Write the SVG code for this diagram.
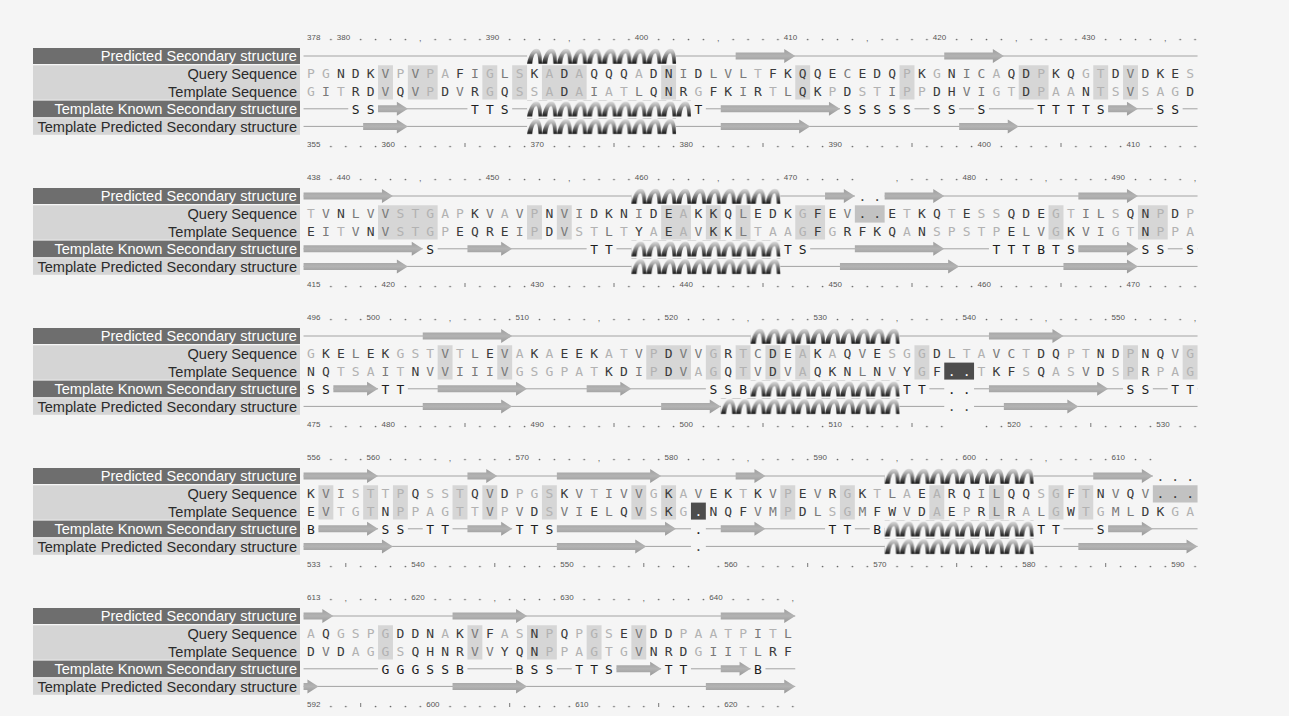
<svg xmlns="http://www.w3.org/2000/svg" width="1289" height="716" viewBox="0 0 1289 716">
<defs>
<style>
.lbd{fill:#6e6e6e}
.lbl{fill:#d5d5d5}
.lt{font-family:"Liberation Sans",Arial,sans-serif;font-size:14.6px;text-anchor:end}
.lw{fill:#ffffff}
.lk{fill:#2b2b2b}
.sq{font-family:"DejaVu Sans Mono",monospace;font-size:13px;text-anchor:middle;fill:#3a3a3a}
.l{fill:#b2b2b2}
.m{fill:#7a7a7a}
.w{fill:#ffffff}
.sh{fill:#d6d6d6}
.gq{fill:#c2c2c2}
.gt{fill:#4d4d4d}
.ln{stroke:#a3a3a3;stroke-width:1}
.ar{fill:url(#ag)}
.hx{fill:url(#hp)}
.mk{fill:#f5f5f5}
.ss{font-family:"DejaVu Sans Mono",monospace;font-size:13px;text-anchor:middle;fill:#1e1e1e}
.gd{font-family:"DejaVu Sans Mono",monospace;font-size:13px;text-anchor:middle;fill:#444}
.num{font-family:"Liberation Sans",Arial,sans-serif;font-size:8px;fill:#555}
.cm{font-family:"Liberation Sans",Arial,sans-serif;font-size:9px;text-anchor:middle;fill:#666}
.tk{stroke:#777;stroke-width:1;fill:none}
.dots{fill:url(#dp)}
</style>
<linearGradient id="ag" x1="0" y1="0" x2="0" y2="1">
<stop offset="0" stop-color="#9e9e9e"/>
<stop offset="0.5" stop-color="#b3b3b3"/>
<stop offset="1" stop-color="#979797"/>
</linearGradient>
<linearGradient id="hg" x1="0" y1="0" x2="0" y2="1">
<stop offset="0" stop-color="#dcdcdc"/>
<stop offset="0.3" stop-color="#ababab"/>
<stop offset="0.65" stop-color="#5a5a5a"/>
<stop offset="1" stop-color="#101010"/>
</linearGradient>
<pattern id="hp" patternUnits="userSpaceOnUse" x="303.55" y="-8" width="14.9" height="16">
<rect width="14.9" height="16" fill="#f5f5f5"/>
<path d="M0 15.8C1.8 7 5 0.8 9.5 0.8C12.5 0.8 14 4 14.6 9L14.9 15.8L11.5 15.8C11.2 10 10.5 5.2 9.2 5.2C7.2 5.2 5.8 10 5.2 15.8Z" fill="url(#hg)"/>
</pattern>
<pattern id="dp" patternUnits="userSpaceOnUse" x="303.55" y="0" width="14.9" height="107">
<circle cx="12.45" cy="2.5" r="0.85" fill="#666"/>
</pattern>
</defs>
<rect width="1289" height="716" fill="#f5f5f5"/>

<!-- ================= BLOCK 1 ================= -->
<g id="block1" transform="translate(0,37)">
<g id="b1-labels">
<rect class="lbd" x="33" y="11" width="267" height="16"/>
<rect class="lbl" x="33" y="28.3" width="267" height="34.4"/>
<rect class="lbd" x="33" y="63.6" width="267" height="16.6"/>
<rect class="lbl" x="33" y="81.2" width="267" height="16.6"/>
<text class="lt lw" x="297" y="24.3">Predicted Secondary structure</text>
<text class="lt lk" x="297" y="41.9">Query Sequence</text>
<text class="lt lk" x="297" y="59.5">Template Sequence</text>
<text class="lt lw" x="297" y="77.1">Template Known Secondary structure</text>
<text class="lt lk" x="297" y="94.7">Template Predicted Secondary structure</text>
</g>
<g id="b1-seq">
<path class="sh" d="M378.05 28.3h14.9v34.3h-14.9zM407.85 28.3h29.8v34.3h-29.8zM482.35 28.3h14.9v34.3h-14.9zM512.15 28.3h14.9v34.3h-14.9zM541.95 28.3h44.7v34.3h-44.7zM661.15 28.3h14.9v34.3h-14.9zM795.25 28.3h14.9v34.3h-14.9zM899.55 28.3h14.9v34.3h-14.9zM1018.75 28.3h29.8v34.3h-29.8zM1093.25 28.3h14.9v34.3h-14.9zM1123.05 28.3h14.9v34.3h-14.9z"/>
<text class="sq" x="311 325.9 340.8 355.7 370.6 385.5 400.4 415.3 430.2 445.1 460 474.9 489.8 504.7 519.6 534.5 549.4 564.3 579.2 594.1 609 623.9 638.8 653.7 668.6 683.5 698.4 713.3 728.2 743.1 758 772.9 787.8 802.7 817.6 832.5 847.4 862.3 877.2 892.1 907 921.9 936.8 951.7 966.6 981.5 996.4 1011.3 1026.2 1041.1 1056 1070.9 1085.8 1100.7 1115.6 1130.5 1145.4 1160.3 1175.2 1190.1" y="41.3"><tspan class="l">PG</tspan>NDK<tspan class="m">V</tspan><tspan class="l">P</tspan><tspan class="m">V</tspan><tspan class="l">PA</tspan>F<tspan class="m">I</tspan><tspan class="l">G</tspan><tspan class="m">L</tspan><tspan class="l">S</tspan>K<tspan class="l">A</tspan>D<tspan class="l">A</tspan>QQQ<tspan class="l">A</tspan>DN<tspan class="m">I</tspan>D<tspan class="m">LVL</tspan><tspan class="l">T</tspan>FKQQE<tspan class="m">C</tspan>EDQ<tspan class="l">P</tspan>K<tspan class="l">G</tspan>N<tspan class="m">IC</tspan><tspan class="l">A</tspan>QD<tspan class="l">P</tspan>KQ<tspan class="l">GT</tspan>D<tspan class="m">V</tspan>DKE<tspan class="l">S</tspan></text>
<text class="sq" x="311 325.9 340.8 355.7 370.6 385.5 400.4 415.3 430.2 445.1 460 474.9 489.8 504.7 519.6 534.5 549.4 564.3 579.2 594.1 609 623.9 638.8 653.7 668.6 683.5 698.4 713.3 728.2 743.1 758 772.9 787.8 802.7 817.6 832.5 847.4 862.3 877.2 892.1 907 921.9 936.8 951.7 966.6 981.5 996.4 1011.3 1026.2 1041.1 1056 1070.9 1085.8 1100.7 1115.6 1130.5 1145.4 1160.3 1175.2 1190.1" y="58.9"><tspan class="l">G</tspan><tspan class="m">I</tspan><tspan class="l">T</tspan>RD<tspan class="m">V</tspan>Q<tspan class="m">V</tspan><tspan class="l">P</tspan>D<tspan class="m">V</tspan>R<tspan class="l">G</tspan>Q<tspan class="l">SSA</tspan>D<tspan class="l">A</tspan><tspan class="m">I</tspan><tspan class="l">AT</tspan><tspan class="m">L</tspan>QNR<tspan class="l">G</tspan>FK<tspan class="m">I</tspan>R<tspan class="l">T</tspan><tspan class="m">L</tspan>QK<tspan class="l">P</tspan>D<tspan class="l">ST</tspan><tspan class="m">I</tspan><tspan class="l">PP</tspan>DH<tspan class="m">VI</tspan><tspan class="l">GT</tspan>D<tspan class="l">PAA</tspan>N<tspan class="l">TS</tspan><tspan class="m">V</tspan><tspan class="l">SAG</tspan>D</text>
</g>
<g id="b1-ss">
<g id="b1-pred" transform="translate(0,19)">
<line class="ln" x1="303.55" y1="0" x2="1197.55" y2="0"/>
<rect class="hx" x="527.05" y="-8" width="149" height="16"/>
<path class="ar" d="M735.65 -3.5H784.25V-7L795.25 0L784.25 7V3.5H735.65ZM944.25 -3.5H992.85V-7L1003.85 0L992.85 7V3.5H944.25Z"/>
</g>
<g id="b1-known" transform="translate(0,71.8)">
<line class="ln" x1="303.55" y1="0" x2="1197.55" y2="0"/>
<path class="mk" d="M348.25 -1.5h29.8v3h-29.8zM467.45 -1.5h44.7v3h-44.7zM690.95 -1.5h14.9v3h-14.9zM839.95 -1.5h74.5v3h-74.5zM929.35 -1.5h29.8v3h-29.8zM974.05 -1.5h14.9v3h-14.9zM1033.65 -1.5h74.5v3h-74.5zM1152.85 -1.5h29.8v3h-29.8z"/>
<rect class="hx" x="527.05" y="-8" width="163.9" height="16"/>
<path class="ar" d="M378.05 -3.5H396.85V-7L407.85 0L396.85 7V3.5H378.05ZM720.75 -3.5H828.95V-7L839.95 0L828.95 7V3.5H720.75ZM1108.15 -3.5H1126.95V-7L1137.95 0L1126.95 7V3.5H1108.15Z"/>
<text class="ss" x="355.7 370.6 474.9 489.8 504.7 698.4 847.4 862.3 877.2 892.1 907 936.8 951.7 981.5 1041.1 1056 1070.9 1085.8 1100.7 1160.3 1175.2" y="4.7">SSTTSTSSSSSSSSTTTTSSS</text>
</g>
<g id="b1-tpred" transform="translate(0,89.4)">
<line class="ln" x1="303.55" y1="0" x2="1197.55" y2="0"/>
<rect class="hx" x="527.05" y="-8" width="149" height="16"/>
<path class="ar" d="M363.15 -3.5H396.85V-7L407.85 0L396.85 7V3.5H363.15ZM720.75 -3.5H799.15V-7L810.15 0L799.15 7V3.5H720.75ZM959.15 -3.5H1007.75V-7L1018.75 0L1007.75 7V3.5H959.15Z"/>
</g>
</g>
<g id="b1-num">
<rect class="dots" x="303.55" y="0.5" width="894" height="4"/>
<rect class="dots" x="303.55" y="107.5" width="894" height="4"/>
<path class="mk" d="M303.55 .5h14.9v4h-14.9zM333.35 .5h14.9v4h-14.9zM482.35 .5h14.9v4h-14.9zM631.35 .5h14.9v4h-14.9zM780.35 .5h14.9v4h-14.9zM929.35 .5h14.9v4h-14.9zM1078.35 .5h14.9v4h-14.9zM407.85 .5h14.9v4h-14.9zM556.85 .5h14.9v4h-14.9zM705.85 .5h14.9v4h-14.9zM854.85 .5h14.9v4h-14.9zM1003.85 .5h14.9v4h-14.9zM1152.85 .5h14.9v4h-14.9zM303.55 107.5h14.9v4h-14.9zM378.05 107.5h14.9v4h-14.9zM527.05 107.5h14.9v4h-14.9zM676.05 107.5h14.9v4h-14.9zM825.05 107.5h14.9v4h-14.9zM974.05 107.5h14.9v4h-14.9zM1123.05 107.5h14.9v4h-14.9zM452.55 107.5h14.9v4h-14.9zM601.55 107.5h14.9v4h-14.9zM750.55 107.5h14.9v4h-14.9zM899.55 107.5h14.9v4h-14.9zM1048.55 107.5h14.9v4h-14.9z"/>
<text class="num" x="307" y="3.3">378</text>
<text class="num" x="336.8" y="3.3">380</text>
<text class="num" x="485.8" y="3.3">390</text>
<text class="num" x="634.8" y="3.3">400</text>
<text class="num" x="783.8" y="3.3">410</text>
<text class="num" x="932.8" y="3.3">420</text>
<text class="num" x="1081.8" y="3.3">430</text>
<text class="cm" x="420.3" y="4">,</text>
<text class="cm" x="569.3" y="4">,</text>
<text class="cm" x="718.3" y="4">,</text>
<text class="cm" x="867.3" y="4">,</text>
<text class="cm" x="1016.3" y="4">,</text>
<text class="cm" x="1165.3" y="4">,</text>
<text class="num" x="307" y="110.3">355</text>
<text class="num" x="381.5" y="110.3">360</text>
<text class="num" x="530.5" y="110.3">370</text>
<text class="num" x="679.5" y="110.3">380</text>
<text class="num" x="828.5" y="110.3">390</text>
<text class="num" x="977.5" y="110.3">400</text>
<text class="num" x="1126.5" y="110.3">410</text>
<path class="tk" d="M465 106v4M614 106v4M763 106v4M912 106v4M1061 106v4"/>
</g>
</g>

<!-- ================= BLOCK 2 ================= -->
<g id="block2" transform="translate(0,177)">
<g id="b2-labels">
<rect class="lbd" x="33" y="11" width="267" height="16"/>
<rect class="lbl" x="33" y="28.3" width="267" height="34.4"/>
<rect class="lbd" x="33" y="63.6" width="267" height="16.6"/>
<rect class="lbl" x="33" y="81.2" width="267" height="16.6"/>
<text class="lt lw" x="297" y="24.3">Predicted Secondary structure</text>
<text class="lt lk" x="297" y="41.9">Query Sequence</text>
<text class="lt lk" x="297" y="59.5">Template Sequence</text>
<text class="lt lw" x="297" y="77.1">Template Known Secondary structure</text>
<text class="lt lk" x="297" y="94.7">Template Predicted Secondary structure</text>
</g>
<g id="b2-seq">
<path class="sh" d="M378.05 28.3h59.6v34.3h-59.6zM527.05 28.3h14.9v34.3h-14.9zM556.85 28.3h14.9v34.3h-14.9zM661.15 28.3h29.8v34.3h-29.8zM705.85 28.3h14.9v34.3h-14.9zM735.65 28.3h14.9v34.3h-14.9zM795.25 28.3h29.8v34.3h-29.8zM1048.55 28.3h14.9v34.3h-14.9zM1137.95 28.3h29.8v34.3h-29.8z"/>
<path class="gq" d="M854.85 28.3h29.8v17.3h-29.8z"/>
<text class="sq" x="311 325.9 340.8 355.7 370.6 385.5 400.4 415.3 430.2 445.1 460 474.9 489.8 504.7 519.6 534.5 549.4 564.3 579.2 594.1 609 623.9 638.8 653.7 668.6 683.5 698.4 713.3 728.2 743.1 758 772.9 787.8 802.7 817.6 832.5 847.4 862.3 877.2 892.1 907 921.9 936.8 951.7 966.6 981.5 996.4 1011.3 1026.2 1041.1 1056 1070.9 1085.8 1100.7 1115.6 1130.5 1145.4 1160.3 1175.2 1190.1" y="41.3"><tspan class="l">T</tspan><tspan class="m">V</tspan>N<tspan class="m">LVV</tspan><tspan class="l">STGAP</tspan>K<tspan class="m">V</tspan><tspan class="l">A</tspan><tspan class="m">V</tspan><tspan class="l">P</tspan>N<tspan class="m">VI</tspan>DKN<tspan class="m">I</tspan>DE<tspan class="l">A</tspan>KKQ<tspan class="m">L</tspan>EDK<tspan class="l">G</tspan>FE<tspan class="m">V</tspan>..E<tspan class="l">T</tspan>KQ<tspan class="l">T</tspan>E<tspan class="l">SS</tspan>QDE<tspan class="l">GT</tspan><tspan class="m">IL</tspan><tspan class="l">S</tspan>QN<tspan class="l">P</tspan>D<tspan class="l">P</tspan></text>
<text class="sq" x="311 325.9 340.8 355.7 370.6 385.5 400.4 415.3 430.2 445.1 460 474.9 489.8 504.7 519.6 534.5 549.4 564.3 579.2 594.1 609 623.9 638.8 653.7 668.6 683.5 698.4 713.3 728.2 743.1 758 772.9 787.8 802.7 817.6 832.5 847.4 862.3 877.2 892.1 907 921.9 936.8 951.7 966.6 981.5 996.4 1011.3 1026.2 1041.1 1056 1070.9 1085.8 1100.7 1115.6 1130.5 1145.4 1160.3 1175.2 1190.1" y="58.9">E<tspan class="m">I</tspan><tspan class="l">T</tspan><tspan class="m">V</tspan>N<tspan class="m">V</tspan><tspan class="l">STGP</tspan>EQRE<tspan class="m">I</tspan><tspan class="l">P</tspan>D<tspan class="m">V</tspan><tspan class="l">ST</tspan><tspan class="m">L</tspan><tspan class="l">T</tspan>Y<tspan class="l">A</tspan>E<tspan class="l">A</tspan><tspan class="m">V</tspan>KK<tspan class="m">L</tspan><tspan class="l">TAAG</tspan>F<tspan class="l">G</tspan>RFKQ<tspan class="l">A</tspan>N<tspan class="l">SPSTP</tspan>E<tspan class="m">LV</tspan><tspan class="l">G</tspan>K<tspan class="m">VI</tspan><tspan class="l">GT</tspan>N<tspan class="l">PPA</tspan></text>
</g>
<g id="b2-ss">
<g id="b2-pred" transform="translate(0,19)">
<line class="ln" x1="303.55" y1="0" x2="1197.55" y2="0"/>
<path class="mk" d="M854.85 -1.5h29.8v3h-29.8z"/>
<rect class="hx" x="631.35" y="-8" width="149" height="16"/>
<path class="ar" d="M303.55 -3.5H381.95V-7L392.95 0L381.95 7V3.5H303.55ZM825.05 -3.5H843.85V-7L854.85 0L843.85 7V3.5H825.05ZM884.65 -3.5H933.25V-7L944.25 0L933.25 7V3.5H884.65ZM1078.35 -3.5H1126.95V-7L1137.95 0L1126.95 7V3.5H1078.35Z"/>
<text class="gd" x="862.3 877.2" y="5">..</text>
</g>
<g id="b2-known" transform="translate(0,71.8)">
<line class="ln" x1="303.55" y1="0" x2="1197.55" y2="0"/>
<path class="mk" d="M422.75 -1.5h14.9v3h-14.9zM586.65 -1.5h29.8v3h-29.8zM780.35 -1.5h29.8v3h-29.8zM988.95 -1.5h89.4v3h-89.4zM1137.95 -1.5h29.8v3h-29.8zM1182.65 -1.5h14.9v3h-14.9z"/>
<rect class="hx" x="631.35" y="-8" width="149" height="16"/>
<path class="ar" d="M303.55 -3.5H411.75V-7L422.75 0L411.75 7V3.5H303.55ZM467.45 -3.5H501.15V-7L512.15 0L501.15 7V3.5H467.45ZM854.85 -3.5H933.25V-7L944.25 0L933.25 7V3.5H854.85ZM1078.35 -3.5H1126.95V-7L1137.95 0L1126.95 7V3.5H1078.35Z"/>
<text class="ss" x="430.2 594.1 609 787.8 802.7 996.4 1011.3 1026.2 1041.1 1056 1070.9 1145.4 1160.3 1190.1" y="4.7">STTTSTTTBTSSSS</text>
</g>
<g id="b2-tpred" transform="translate(0,89.4)">
<line class="ln" x1="303.55" y1="0" x2="1197.55" y2="0"/>
<rect class="hx" x="631.35" y="-8" width="149" height="16"/>
<path class="ar" d="M303.55 -3.5H396.85V-7L407.85 0L396.85 7V3.5H303.55ZM839.95 -3.5H948.15V-7L959.15 0L948.15 7V3.5H839.95ZM1063.45 -3.5H1126.95V-7L1137.95 0L1126.95 7V3.5H1063.45Z"/>
</g>
</g>
<g id="b2-num">
<rect class="dots" x="303.55" y="0.5" width="894" height="4"/>
<rect class="dots" x="303.55" y="107.5" width="894" height="4"/>
<path class="mk" d="M303.55 .5h14.9v4h-14.9zM333.35 .5h14.9v4h-14.9zM482.35 .5h14.9v4h-14.9zM631.35 .5h14.9v4h-14.9zM780.35 .5h14.9v4h-14.9zM959.15 .5h14.9v4h-14.9zM1108.15 .5h14.9v4h-14.9zM407.85 .5h14.9v4h-14.9zM556.85 .5h14.9v4h-14.9zM705.85 .5h14.9v4h-14.9zM884.65 .5h14.9v4h-14.9zM1033.65 .5h14.9v4h-14.9zM1182.65 .5h14.9v4h-14.9zM854.85 .5h29.8v4h-29.8zM303.55 107.5h14.9v4h-14.9zM378.05 107.5h14.9v4h-14.9zM527.05 107.5h14.9v4h-14.9zM676.05 107.5h14.9v4h-14.9zM825.05 107.5h14.9v4h-14.9zM974.05 107.5h14.9v4h-14.9zM1123.05 107.5h14.9v4h-14.9zM452.55 107.5h14.9v4h-14.9zM601.55 107.5h14.9v4h-14.9zM750.55 107.5h14.9v4h-14.9zM899.55 107.5h14.9v4h-14.9zM1048.55 107.5h14.9v4h-14.9z"/>
<text class="num" x="307" y="3.3">438</text>
<text class="num" x="336.8" y="3.3">440</text>
<text class="num" x="485.8" y="3.3">450</text>
<text class="num" x="634.8" y="3.3">460</text>
<text class="num" x="783.8" y="3.3">470</text>
<text class="num" x="962.6" y="3.3">480</text>
<text class="num" x="1111.6" y="3.3">490</text>
<text class="cm" x="420.3" y="4">,</text>
<text class="cm" x="569.3" y="4">,</text>
<text class="cm" x="718.3" y="4">,</text>
<text class="cm" x="897.1" y="4">,</text>
<text class="cm" x="1046.1" y="4">,</text>
<text class="cm" x="1195.1" y="4">,</text>
<text class="num" x="307" y="110.3">415</text>
<text class="num" x="381.5" y="110.3">420</text>
<text class="num" x="530.5" y="110.3">430</text>
<text class="num" x="679.5" y="110.3">440</text>
<text class="num" x="828.5" y="110.3">450</text>
<text class="num" x="977.5" y="110.3">460</text>
<text class="num" x="1126.5" y="110.3">470</text>
<path class="tk" d="M465 106v4M614 106v4M763 106v4M912 106v4M1061 106v4"/>
</g>
</g>

<!-- ================= BLOCK 3 ================= -->
<g id="block3" transform="translate(0,317)">
<g id="b3-labels">
<rect class="lbd" x="33" y="11" width="267" height="16"/>
<rect class="lbl" x="33" y="28.3" width="267" height="34.4"/>
<rect class="lbd" x="33" y="63.6" width="267" height="16.6"/>
<rect class="lbl" x="33" y="81.2" width="267" height="16.6"/>
<text class="lt lw" x="297" y="24.3">Predicted Secondary structure</text>
<text class="lt lk" x="297" y="41.9">Query Sequence</text>
<text class="lt lk" x="297" y="59.5">Template Sequence</text>
<text class="lt lw" x="297" y="77.1">Template Known Secondary structure</text>
<text class="lt lk" x="297" y="94.7">Template Predicted Secondary structure</text>
</g>
<g id="b3-seq">
<path class="sh" d="M437.65 28.3h14.9v34.3h-14.9zM497.25 28.3h14.9v34.3h-14.9zM646.25 28.3h44.7v34.3h-44.7zM705.85 28.3h14.9v34.3h-14.9zM735.65 28.3h14.9v34.3h-14.9zM765.45 28.3h14.9v34.3h-14.9zM795.25 28.3h14.9v34.3h-14.9zM914.45 28.3h14.9v34.3h-14.9zM1123.05 28.3h14.9v34.3h-14.9zM1182.65 28.3h14.9v34.3h-14.9z"/>
<path class="gt" d="M944.25 45.6h29.8v17h-29.8z"/>
<text class="sq" x="311 325.9 340.8 355.7 370.6 385.5 400.4 415.3 430.2 445.1 460 474.9 489.8 504.7 519.6 534.5 549.4 564.3 579.2 594.1 609 623.9 638.8 653.7 668.6 683.5 698.4 713.3 728.2 743.1 758 772.9 787.8 802.7 817.6 832.5 847.4 862.3 877.2 892.1 907 921.9 936.8 951.7 966.6 981.5 996.4 1011.3 1026.2 1041.1 1056 1070.9 1085.8 1100.7 1115.6 1130.5 1145.4 1160.3 1175.2 1190.1" y="41.3"><tspan class="l">G</tspan>KE<tspan class="m">L</tspan>EK<tspan class="l">GST</tspan><tspan class="m">V</tspan><tspan class="l">T</tspan><tspan class="m">L</tspan>E<tspan class="m">V</tspan><tspan class="l">A</tspan>K<tspan class="l">A</tspan>EEK<tspan class="l">AT</tspan><tspan class="m">V</tspan><tspan class="l">P</tspan>D<tspan class="m">VV</tspan><tspan class="l">G</tspan>R<tspan class="l">T</tspan><tspan class="m">C</tspan>DE<tspan class="l">A</tspan>K<tspan class="l">A</tspan>Q<tspan class="m">V</tspan>E<tspan class="l">SGG</tspan>D<tspan class="m">L</tspan><tspan class="l">TA</tspan><tspan class="m">VC</tspan><tspan class="l">T</tspan>DQ<tspan class="l">PT</tspan>ND<tspan class="l">P</tspan>NQ<tspan class="m">V</tspan><tspan class="l">G</tspan></text>
<text class="sq" x="311 325.9 340.8 355.7 370.6 385.5 400.4 415.3 430.2 445.1 460 474.9 489.8 504.7 519.6 534.5 549.4 564.3 579.2 594.1 609 623.9 638.8 653.7 668.6 683.5 698.4 713.3 728.2 743.1 758 772.9 787.8 802.7 817.6 832.5 847.4 862.3 877.2 892.1 907 921.9 936.8 951.7 966.6 981.5 996.4 1011.3 1026.2 1041.1 1056 1070.9 1085.8 1100.7 1115.6 1130.5 1145.4 1160.3 1175.2 1190.1" y="58.9">NQ<tspan class="l">TSA</tspan><tspan class="m">I</tspan><tspan class="l">T</tspan>N<tspan class="m">VVIIIV</tspan><tspan class="l">GSGPAT</tspan>KD<tspan class="m">I</tspan><tspan class="l">P</tspan>D<tspan class="m">V</tspan><tspan class="l">AG</tspan>Q<tspan class="l">T</tspan><tspan class="m">V</tspan>D<tspan class="m">V</tspan><tspan class="l">A</tspan>QKN<tspan class="m">L</tspan>N<tspan class="m">V</tspan>Y<tspan class="l">G</tspan>F<tspan class="w">..</tspan><tspan class="l">T</tspan>KF<tspan class="l">S</tspan>Q<tspan class="l">AS</tspan><tspan class="m">V</tspan>D<tspan class="l">SP</tspan>R<tspan class="l">PAG</tspan></text>
</g>
<g id="b3-ss">
<g id="b3-pred" transform="translate(0,19)">
<line class="ln" x1="303.55" y1="0" x2="1197.55" y2="0"/>
<rect class="hx" x="750.55" y="-8" width="149" height="16"/>
<path class="ar" d="M422.75 -3.5H501.15V-7L512.15 0L501.15 7V3.5H422.75ZM988.95 -3.5H1052.45V-7L1063.45 0L1052.45 7V3.5H988.95Z"/>
</g>
<g id="b3-known" transform="translate(0,71.8)">
<line class="ln" x1="303.55" y1="0" x2="1197.55" y2="0"/>
<path class="mk" d="M303.55 -1.5h29.8v3h-29.8zM378.05 -1.5h29.8v3h-29.8zM705.85 -1.5h44.7v3h-44.7zM899.55 -1.5h29.8v3h-29.8zM944.25 -1.5h29.8v3h-29.8zM1123.05 -1.5h29.8v3h-29.8zM1167.75 -1.5h29.8v3h-29.8z"/>
<rect class="hx" x="750.55" y="-8" width="149" height="16"/>
<path class="ar" d="M333.35 -3.5H367.05V-7L378.05 0L367.05 7V3.5H333.35ZM437.65 -3.5H516.05V-7L527.05 0L516.05 7V3.5H437.65ZM586.65 -3.5H620.35V-7L631.35 0L620.35 7V3.5H586.65ZM988.95 -3.5H1097.15V-7L1108.15 0L1097.15 7V3.5H988.95Z"/>
<text class="ss" x="311 325.9 385.5 400.4 713.3 728.2 743.1 907 921.9 951.7 966.6 1130.5 1145.4 1175.2 1190.1" y="4.7">SSTTSSBTT..SSTT</text>
</g>
<g id="b3-tpred" transform="translate(0,89.4)">
<line class="ln" x1="303.55" y1="0" x2="1197.55" y2="0"/>
<path class="mk" d="M944.25 -1.5h29.8v3h-29.8z"/>
<rect class="hx" x="720.75" y="-8" width="178.8" height="16"/>
<path class="ar" d="M422.75 -3.5H501.15V-7L512.15 0L501.15 7V3.5H422.75ZM661.15 -3.5H709.75V-7L720.75 0L709.75 7V3.5H661.15ZM1003.85 -3.5H1067.35V-7L1078.35 0L1067.35 7V3.5H1003.85Z"/>
<text class="gd" x="951.7 966.6" y="5">..</text>
</g>
</g>
<g id="b3-num">
<rect class="dots" x="303.55" y="0.5" width="894" height="4"/>
<rect class="dots" x="303.55" y="107.5" width="894" height="4"/>
<path class="mk" d="M303.55 .5h14.9v4h-14.9zM363.15 .5h14.9v4h-14.9zM512.15 .5h14.9v4h-14.9zM661.15 .5h14.9v4h-14.9zM810.15 .5h14.9v4h-14.9zM959.15 .5h14.9v4h-14.9zM1108.15 .5h14.9v4h-14.9zM437.65 .5h14.9v4h-14.9zM586.65 .5h14.9v4h-14.9zM735.65 .5h14.9v4h-14.9zM884.65 .5h14.9v4h-14.9zM1033.65 .5h14.9v4h-14.9zM1182.65 .5h14.9v4h-14.9zM303.55 107.5h14.9v4h-14.9zM378.05 107.5h14.9v4h-14.9zM527.05 107.5h14.9v4h-14.9zM676.05 107.5h14.9v4h-14.9zM825.05 107.5h14.9v4h-14.9zM1003.85 107.5h14.9v4h-14.9zM1152.85 107.5h14.9v4h-14.9zM452.55 107.5h14.9v4h-14.9zM601.55 107.5h14.9v4h-14.9zM750.55 107.5h14.9v4h-14.9zM899.55 107.5h14.9v4h-14.9zM1078.35 107.5h14.9v4h-14.9zM944.25 107.5h29.8v4h-29.8z"/>
<text class="num" x="307" y="3.3">496</text>
<text class="num" x="366.6" y="3.3">500</text>
<text class="num" x="515.6" y="3.3">510</text>
<text class="num" x="664.6" y="3.3">520</text>
<text class="num" x="813.6" y="3.3">530</text>
<text class="num" x="962.6" y="3.3">540</text>
<text class="num" x="1111.6" y="3.3">550</text>
<text class="cm" x="450.1" y="4">,</text>
<text class="cm" x="599.1" y="4">,</text>
<text class="cm" x="748.1" y="4">,</text>
<text class="cm" x="897.1" y="4">,</text>
<text class="cm" x="1046.1" y="4">,</text>
<text class="cm" x="1195.1" y="4">,</text>
<text class="num" x="307" y="110.3">475</text>
<text class="num" x="381.5" y="110.3">480</text>
<text class="num" x="530.5" y="110.3">490</text>
<text class="num" x="679.5" y="110.3">500</text>
<text class="num" x="828.5" y="110.3">510</text>
<text class="num" x="1007.3" y="110.3">520</text>
<text class="num" x="1156.3" y="110.3">530</text>
<path class="tk" d="M465 106v4M614 106v4M763 106v4M912 106v4M1090.8 106v4"/>
</g>
</g>

<!-- ================= BLOCK 4 ================= -->
<g id="block4" transform="translate(0,457)">
<g id="b4-labels">
<rect class="lbd" x="33" y="11" width="267" height="16"/>
<rect class="lbl" x="33" y="28.3" width="267" height="34.4"/>
<rect class="lbd" x="33" y="63.6" width="267" height="16.6"/>
<rect class="lbl" x="33" y="81.2" width="267" height="16.6"/>
<text class="lt lw" x="297" y="24.3">Predicted Secondary structure</text>
<text class="lt lk" x="297" y="41.9">Query Sequence</text>
<text class="lt lk" x="297" y="59.5">Template Sequence</text>
<text class="lt lw" x="297" y="77.1">Template Known Secondary structure</text>
<text class="lt lk" x="297" y="94.7">Template Predicted Secondary structure</text>
</g>
<g id="b4-seq">
<path class="sh" d="M318.45 28.3h14.9v34.3h-14.9zM363.15 28.3h14.9v34.3h-14.9zM392.95 28.3h14.9v34.3h-14.9zM452.55 28.3h14.9v34.3h-14.9zM482.35 28.3h14.9v34.3h-14.9zM541.95 28.3h14.9v34.3h-14.9zM631.35 28.3h14.9v34.3h-14.9zM661.15 28.3h14.9v34.3h-14.9zM780.35 28.3h14.9v34.3h-14.9zM839.95 28.3h14.9v34.3h-14.9zM929.35 28.3h14.9v34.3h-14.9zM988.95 28.3h14.9v34.3h-14.9zM1048.55 28.3h14.9v34.3h-14.9zM1078.35 28.3h14.9v34.3h-14.9z"/>
<path class="gq" d="M1152.85 28.3h44.7v17.3h-44.7z"/>
<path class="gt" d="M690.95 45.6h14.9v17h-14.9z"/>
<text class="sq" x="311 325.9 340.8 355.7 370.6 385.5 400.4 415.3 430.2 445.1 460 474.9 489.8 504.7 519.6 534.5 549.4 564.3 579.2 594.1 609 623.9 638.8 653.7 668.6 683.5 698.4 713.3 728.2 743.1 758 772.9 787.8 802.7 817.6 832.5 847.4 862.3 877.2 892.1 907 921.9 936.8 951.7 966.6 981.5 996.4 1011.3 1026.2 1041.1 1056 1070.9 1085.8 1100.7 1115.6 1130.5 1145.4 1160.3 1175.2 1190.1" y="41.3">K<tspan class="m">VI</tspan><tspan class="l">STTP</tspan>Q<tspan class="l">SST</tspan>Q<tspan class="m">V</tspan>D<tspan class="l">PGS</tspan>K<tspan class="m">V</tspan><tspan class="l">T</tspan><tspan class="m">IVV</tspan><tspan class="l">G</tspan>K<tspan class="l">A</tspan><tspan class="m">V</tspan>EK<tspan class="l">T</tspan>K<tspan class="m">V</tspan><tspan class="l">P</tspan>E<tspan class="m">V</tspan>R<tspan class="l">G</tspan>K<tspan class="l">T</tspan><tspan class="m">L</tspan><tspan class="l">A</tspan>E<tspan class="l">A</tspan>RQ<tspan class="m">IL</tspan>QQ<tspan class="l">SG</tspan>F<tspan class="l">T</tspan>N<tspan class="m">V</tspan>Q<tspan class="m">V</tspan>...</text>
<text class="sq" x="311 325.9 340.8 355.7 370.6 385.5 400.4 415.3 430.2 445.1 460 474.9 489.8 504.7 519.6 534.5 549.4 564.3 579.2 594.1 609 623.9 638.8 653.7 668.6 683.5 698.4 713.3 728.2 743.1 758 772.9 787.8 802.7 817.6 832.5 847.4 862.3 877.2 892.1 907 921.9 936.8 951.7 966.6 981.5 996.4 1011.3 1026.2 1041.1 1056 1070.9 1085.8 1100.7 1115.6 1130.5 1145.4 1160.3 1175.2 1190.1" y="58.9">E<tspan class="m">V</tspan><tspan class="l">TGT</tspan>N<tspan class="l">PPAGTT</tspan><tspan class="m">V</tspan><tspan class="l">P</tspan><tspan class="m">V</tspan>D<tspan class="l">S</tspan><tspan class="m">VI</tspan>E<tspan class="m">L</tspan>Q<tspan class="m">V</tspan><tspan class="l">S</tspan>K<tspan class="l">G</tspan><tspan class="w">.</tspan>NQF<tspan class="m">VM</tspan><tspan class="l">P</tspan>D<tspan class="m">L</tspan><tspan class="l">SG</tspan><tspan class="m">M</tspan>FW<tspan class="m">V</tspan>D<tspan class="l">A</tspan>E<tspan class="l">P</tspan>R<tspan class="m">L</tspan>R<tspan class="l">A</tspan><tspan class="m">L</tspan><tspan class="l">G</tspan>W<tspan class="l">TG</tspan><tspan class="m">ML</tspan>DK<tspan class="l">GA</tspan></text>
</g>
<g id="b4-ss">
<g id="b4-pred" transform="translate(0,19)">
<line class="ln" x1="303.55" y1="0" x2="1152.85" y2="0"/>
<rect class="hx" x="884.65" y="-8" width="149" height="16"/>
<path class="ar" d="M303.55 -3.5H367.05V-7L378.05 0L367.05 7V3.5H303.55ZM467.45 -3.5H486.25V-7L497.25 0L486.25 7V3.5H467.45ZM556.85 -3.5H650.15V-7L661.15 0L650.15 7V3.5H556.85ZM735.65 -3.5H754.45V-7L765.45 0L754.45 7V3.5H735.65ZM1093.25 -3.5H1141.85V-7L1152.85 0L1141.85 7V3.5H1093.25Z"/>
<text class="gd" x="1160.3 1175.2 1190.1" y="5">...</text>
</g>
<g id="b4-known" transform="translate(0,71.8)">
<line class="ln" x1="303.55" y1="0" x2="1197.55" y2="0"/>
<path class="mk" d="M303.55 -1.5h14.9v3h-14.9zM378.05 -1.5h29.8v3h-29.8zM422.75 -1.5h29.8v3h-29.8zM512.15 -1.5h44.7v3h-44.7zM690.95 -1.5h14.9v3h-14.9zM825.05 -1.5h29.8v3h-29.8zM869.75 -1.5h14.9v3h-14.9zM1033.65 -1.5h29.8v3h-29.8zM1093.25 -1.5h14.9v3h-14.9z"/>
<rect class="hx" x="884.65" y="-8" width="149" height="16"/>
<path class="ar" d="M318.45 -3.5H367.05V-7L378.05 0L367.05 7V3.5H318.45ZM467.45 -3.5H501.15V-7L512.15 0L501.15 7V3.5H467.45ZM556.85 -3.5H665.05V-7L676.05 0L665.05 7V3.5H556.85ZM720.75 -3.5H754.45V-7L765.45 0L754.45 7V3.5H720.75ZM1108.15 -3.5H1141.85V-7L1152.85 0L1141.85 7V3.5H1108.15Z"/>
<text class="ss" x="311 385.5 400.4 430.2 445.1 519.6 534.5 549.4 698.4 832.5 847.4 877.2 1041.1 1056 1100.7" y="4.7">BSSTTTTS.TTBTTS</text>
</g>
<g id="b4-tpred" transform="translate(0,89.4)">
<line class="ln" x1="303.55" y1="0" x2="1197.55" y2="0"/>
<path class="mk" d="M690.95 -1.5h14.9v3h-14.9z"/>
<rect class="hx" x="884.65" y="-8" width="149" height="16"/>
<path class="ar" d="M303.55 -3.5H381.95V-7L392.95 0L381.95 7V3.5H303.55ZM556.85 -3.5H635.25V-7L646.25 0L635.25 7V3.5H556.85ZM1078.35 -3.5H1186.55V-7L1197.55 0L1186.55 7V3.5H1078.35Z"/>
<text class="gd" x="698.4" y="5">.</text>
</g>
</g>
<g id="b4-num">
<rect class="dots" x="303.55" y="0.5" width="894" height="4"/>
<rect class="dots" x="303.55" y="107.5" width="894" height="4"/>
<path class="mk" d="M303.55 .5h14.9v4h-14.9zM363.15 .5h14.9v4h-14.9zM512.15 .5h14.9v4h-14.9zM661.15 .5h14.9v4h-14.9zM810.15 .5h14.9v4h-14.9zM959.15 .5h14.9v4h-14.9zM1108.15 .5h14.9v4h-14.9zM437.65 .5h14.9v4h-14.9zM586.65 .5h14.9v4h-14.9zM735.65 .5h14.9v4h-14.9zM884.65 .5h14.9v4h-14.9zM1033.65 .5h14.9v4h-14.9zM1152.85 .5h44.7v4h-44.7zM303.55 107.5h14.9v4h-14.9zM407.85 107.5h14.9v4h-14.9zM556.85 107.5h14.9v4h-14.9zM720.75 107.5h14.9v4h-14.9zM869.75 107.5h14.9v4h-14.9zM1018.75 107.5h14.9v4h-14.9zM1167.75 107.5h14.9v4h-14.9zM333.35 107.5h14.9v4h-14.9zM482.35 107.5h14.9v4h-14.9zM631.35 107.5h14.9v4h-14.9zM795.25 107.5h14.9v4h-14.9zM944.25 107.5h14.9v4h-14.9zM1093.25 107.5h14.9v4h-14.9zM690.95 107.5h14.9v4h-14.9z"/>
<text class="num" x="307" y="3.3">556</text>
<text class="num" x="366.6" y="3.3">560</text>
<text class="num" x="515.6" y="3.3">570</text>
<text class="num" x="664.6" y="3.3">580</text>
<text class="num" x="813.6" y="3.3">590</text>
<text class="num" x="962.6" y="3.3">600</text>
<text class="num" x="1111.6" y="3.3">610</text>
<text class="cm" x="450.1" y="4">,</text>
<text class="cm" x="599.1" y="4">,</text>
<text class="cm" x="748.1" y="4">,</text>
<text class="cm" x="897.1" y="4">,</text>
<text class="cm" x="1046.1" y="4">,</text>
<text class="num" x="307" y="110.3">533</text>
<text class="num" x="411.3" y="110.3">540</text>
<text class="num" x="560.3" y="110.3">550</text>
<text class="num" x="724.2" y="110.3">560</text>
<text class="num" x="873.2" y="110.3">570</text>
<text class="num" x="1022.2" y="110.3">580</text>
<text class="num" x="1171.2" y="110.3">590</text>
<path class="tk" d="M345.8 106v4M494.8 106v4M643.8 106v4M807.7 106v4M956.7 106v4M1105.7 106v4"/>
</g>
</g>

<!-- ================= BLOCK 5 ================= -->
<g id="block5" transform="translate(0,597)">
<g id="b5-labels">
<rect class="lbd" x="33" y="11" width="267" height="16"/>
<rect class="lbl" x="33" y="28.3" width="267" height="34.4"/>
<rect class="lbd" x="33" y="63.6" width="267" height="16.6"/>
<rect class="lbl" x="33" y="81.2" width="267" height="16.6"/>
<text class="lt lw" x="297" y="24.3">Predicted Secondary structure</text>
<text class="lt lk" x="297" y="41.9">Query Sequence</text>
<text class="lt lk" x="297" y="59.5">Template Sequence</text>
<text class="lt lw" x="297" y="77.1">Template Known Secondary structure</text>
<text class="lt lk" x="297" y="94.7">Template Predicted Secondary structure</text>
</g>
<g id="b5-seq">
<path class="sh" d="M378.05 28.3h14.9v34.3h-14.9zM467.45 28.3h14.9v34.3h-14.9zM527.05 28.3h29.8v34.3h-29.8zM586.65 28.3h14.9v34.3h-14.9zM631.35 28.3h14.9v34.3h-14.9z"/>
<text class="sq" x="311 325.9 340.8 355.7 370.6 385.5 400.4 415.3 430.2 445.1 460 474.9 489.8 504.7 519.6 534.5 549.4 564.3 579.2 594.1 609 623.9 638.8 653.7 668.6 683.5 698.4 713.3 728.2 743.1 758 772.9 787.8" y="41.3"><tspan class="l">A</tspan>Q<tspan class="l">GSPG</tspan>DDN<tspan class="l">A</tspan>K<tspan class="m">V</tspan>F<tspan class="l">AS</tspan>N<tspan class="l">P</tspan>Q<tspan class="l">PGS</tspan>E<tspan class="m">V</tspan>DD<tspan class="l">PAATP</tspan><tspan class="m">I</tspan><tspan class="l">T</tspan><tspan class="m">L</tspan></text>
<text class="sq" x="311 325.9 340.8 355.7 370.6 385.5 400.4 415.3 430.2 445.1 460 474.9 489.8 504.7 519.6 534.5 549.4 564.3 579.2 594.1 609 623.9 638.8 653.7 668.6 683.5 698.4 713.3 728.2 743.1 758 772.9 787.8" y="58.9">D<tspan class="m">V</tspan>D<tspan class="l">AGGS</tspan>QHNR<tspan class="m">VV</tspan>YQN<tspan class="l">PPAGTG</tspan><tspan class="m">V</tspan>NRD<tspan class="l">G</tspan><tspan class="m">II</tspan><tspan class="l">T</tspan><tspan class="m">L</tspan>RF</text>
</g>
<g id="b5-ss">
<g id="b5-pred" transform="translate(0,19)">
<line class="ln" x1="303.55" y1="0" x2="795.25" y2="0"/>
<path class="ar" d="M303.55 -3.5H322.35V-7L333.35 0L322.35 7V3.5H303.55ZM452.55 -3.5H516.05V-7L527.05 0L516.05 7V3.5H452.55ZM720.75 -3.5H784.25V-7L795.25 0L784.25 7V3.5H720.75Z"/>
</g>
<g id="b5-known" transform="translate(0,71.8)">
<line class="ln" x1="303.55" y1="0" x2="795.25" y2="0"/>
<path class="mk" d="M378.05 -1.5h89.4v3h-89.4zM512.15 -1.5h44.7v3h-44.7zM571.75 -1.5h44.7v3h-44.7zM661.15 -1.5h29.8v3h-29.8zM750.55 -1.5h14.9v3h-14.9z"/>
<path class="ar" d="M616.45 -3.5H650.15V-7L661.15 0L650.15 7V3.5H616.45ZM720.75 -3.5H739.55V-7L750.55 0L739.55 7V3.5H720.75Z"/>
<text class="ss" x="385.5 400.4 415.3 430.2 445.1 460 519.6 534.5 549.4 579.2 594.1 609 668.6 683.5 758" y="4.7">GGGSSBBSSTTSTTB</text>
</g>
<g id="b5-tpred" transform="translate(0,89.4)">
<line class="ln" x1="303.55" y1="0" x2="795.25" y2="0"/>
<path class="ar" d="M303.55 -3.5H307.45V-7L318.45 0L307.45 7V3.5H303.55ZM452.55 -3.5H516.05V-7L527.05 0L516.05 7V3.5H452.55ZM705.85 -3.5H784.25V-7L795.25 0L784.25 7V3.5H705.85Z"/>
</g>
</g>
<g id="b5-num">
<rect class="dots" x="303.55" y="0.5" width="491.7" height="4"/>
<rect class="dots" x="303.55" y="107.5" width="491.7" height="4"/>
<path class="mk" d="M303.55 .5h14.9v4h-14.9zM407.85 .5h14.9v4h-14.9zM556.85 .5h14.9v4h-14.9zM705.85 .5h14.9v4h-14.9zM333.35 .5h14.9v4h-14.9zM482.35 .5h14.9v4h-14.9zM631.35 .5h14.9v4h-14.9zM780.35 .5h14.9v4h-14.9zM303.55 107.5h14.9v4h-14.9zM422.75 107.5h14.9v4h-14.9zM571.75 107.5h14.9v4h-14.9zM720.75 107.5h14.9v4h-14.9zM348.25 107.5h14.9v4h-14.9zM497.25 107.5h14.9v4h-14.9zM646.25 107.5h14.9v4h-14.9z"/>
<text class="num" x="307" y="3.3">613</text>
<text class="num" x="411.3" y="3.3">620</text>
<text class="num" x="560.3" y="3.3">630</text>
<text class="num" x="709.3" y="3.3">640</text>
<text class="cm" x="345.8" y="4">,</text>
<text class="cm" x="494.8" y="4">,</text>
<text class="cm" x="643.8" y="4">,</text>
<text class="cm" x="792.8" y="4">,</text>
<text class="num" x="307" y="110.3">592</text>
<text class="num" x="426.2" y="110.3">600</text>
<text class="num" x="575.2" y="110.3">610</text>
<text class="num" x="724.2" y="110.3">620</text>
<path class="tk" d="M360.7 106v4M509.7 106v4M658.7 106v4"/>
</g>
</g>
</svg>
